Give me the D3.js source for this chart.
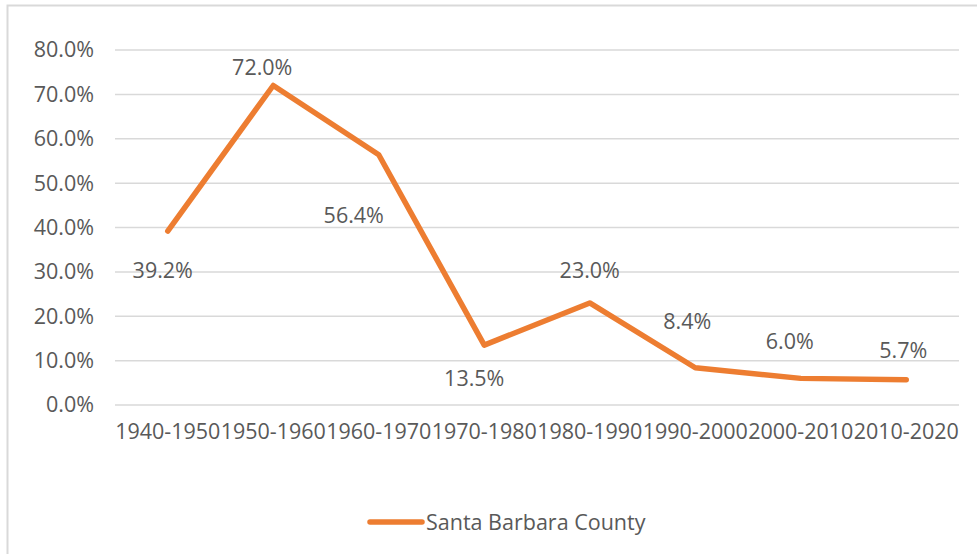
<html>
	<head>
		<script type="text/javascript" src="https://cdn.jsdelivr.net/npm/d3@7/dist/d3.min.js"></script>
		<style>
			body{ margin:0; background:#fff; }
			svg{ display:block; }
			text{ font-family:"Open Sans", "Noto Sans", sans-serif; fill:#595959; }
		</style>
	</head>
	<body>
		<div id="container"></div>
		<script type="text/javascript">

			var decades = ["1940-1950", "1950-1960", "1960-1970", "1970-1980", "1980-1990", "1990-2000", "2000-2010", "2010-2020"];
			var growth = [39.2, 72.0, 56.4, 13.5, 23.0, 8.4, 6.0, 5.7];
			var yTicks = [0, 10, 20, 30, 40, 50, 60, 70, 80];
			var seriesName = "Santa Barbara County";

			// hand placed data labels (offset of label centre from the point)
			var labelOffsets = [[-5, 39], [-11, -18], [-25, 61], [-10, 33], [0, -32], [-8, -46], [-11, -37], [-3, -29]];

			var W = 977, H = 554;
			var orange = "#ED7D31";
			var fs = 21.5;

			var svg = d3.select("#container")
				.append("svg")
					.attr("width", W)
					.attr("height", H);

			svg.append("rect")
				.attr("x", 7.5).attr("y", 5.5)
				.attr("width", 1000).attr("height", 600)
				.attr("fill", "none")
				.attr("stroke", "#d9d9d9")
				.attr("stroke-width", 2);

			var x = d3.scaleBand()
				.domain(decades)
				.range([115, 959]);

			var y = d3.scaleLinear()
				.domain([0, 80])
				.range([405, 50]);

			// grid
			svg.append("g").selectAll("line").data(yTicks).enter().append("line")
				.attr("x1", 115).attr("x2", 959)
				.attr("y1", function(d){ return y(d); })
				.attr("y2", function(d){ return y(d); })
				.attr("stroke", "#d9d9d9")
				.attr("stroke-width", 1.5);

			var yAxis = d3.axisLeft(y)
				.tickValues(yTicks)
				.tickSize(0)
				.tickPadding(0)
				.tickFormat(function(d){ return d.toFixed(1) + "%"; });

			var gy = svg.append("g")
				.attr("transform", "translate(94, 0)")
				.call(yAxis);
			gy.select(".domain").remove();
			gy.selectAll("text").attr("font-size", fs).attr("fill", "#595959")
				.attr("font-family", "Open Sans");

			var xAxis = d3.axisBottom(x).tickSize(0).tickPadding(0);
			var gx = svg.append("g")
				.attr("transform", "translate(0, 424)")
				.call(xAxis);
			gx.select(".domain").remove();
			gx.selectAll("text").attr("font-size", fs).attr("fill", "#595959")
				.attr("font-family", "Open Sans");

			var line = d3.line()
				.x(function(d, i){ return x(decades[i]) + x.bandwidth() / 2; })
				.y(function(d){ return y(d); });

			svg.append("path")
				.datum(growth)
				.attr("d", line)
				.attr("fill", "none")
				.attr("stroke", orange)
				.attr("stroke-width", 5.5)
				.attr("stroke-linejoin", "round")
				.attr("stroke-linecap", "round");

			svg.append("g").selectAll("text").data(growth).enter().append("text")
				.attr("x", function(d, i){ return x(decades[i]) + x.bandwidth() / 2 + labelOffsets[i][0]; })
				.attr("y", function(d, i){ return y(d) + labelOffsets[i][1]; })
				.attr("dy", "0.35em")
				.attr("text-anchor", "middle")
				.attr("font-size", fs)
				.text(function(d){ return d.toFixed(1) + "%"; });

			// legend
			var legend = svg.append("g").attr("transform", "translate(370, 522)");
			legend.append("line")
				.attr("x1", 0).attr("x2", 52)
				.attr("stroke", orange)
				.attr("stroke-width", 5.5)
				.attr("stroke-linecap", "round");
			legend.append("text")
				.attr("x", 56)
				.attr("dy", "0.35em")
				.attr("font-size", fs)
				.text(seriesName);

		</script>
	</body>
</html>
